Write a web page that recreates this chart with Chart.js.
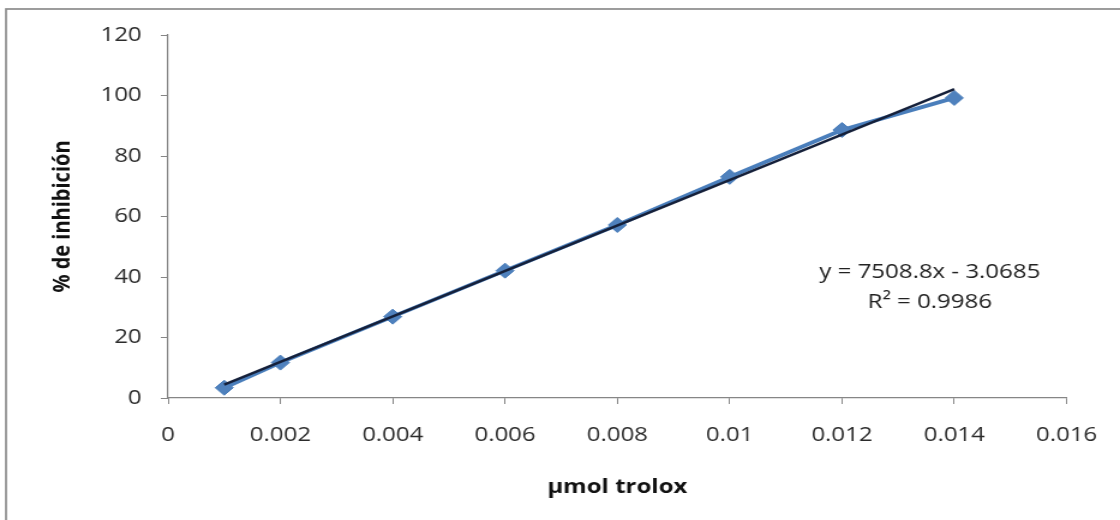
<!DOCTYPE html>
<html>
<head>
<meta charset="utf-8">
<script src="https://cdn.jsdelivr.net/npm/chart.js@4.4.1/dist/chart.umd.min.js"></script>
<style>
  html, body { margin: 0; padding: 0; background: #ffffff; overflow: hidden; }
  #c { display: block; width: 1120px; height: 520px; }
</style>
</head>
<body>
<canvas id="c" width="933" height="520" style="width:1120px;height:520px;"></canvas>
<script>
// ---- data ----
const xValues = [0.001, 0.002, 0.004, 0.006, 0.008, 0.010, 0.012, 0.014];
const inhibition = [3.4, 11.7, 26.9, 42.1, 57.2, 73.1, 88.6, 99.2];
const trendX = [0.001, 0.014];
const trendY = [4.4, 102.1];
const xTitle = 'µmol trolox';
const yTitle = '% de inhibición';
const equationLines = ['y = 7508.8x - 3.0685', 'R² = 0.9986'];

const FONT = "'Open Sans', 'DejaVu Sans', sans-serif";
const AXIS = '#868686';

const seriesData = xValues.map((x, i) => ({ x: x, y: inhibition[i] }));
const trendData = trendX.map((x, i) => ({ x: x, y: trendY[i] }));

const frame = {
  id: 'frame',
  beforeDraw(chart) {
    const ctx = chart.ctx;
    ctx.save();
    ctx.fillStyle = '#ffffff';
    ctx.fillRect(0, 0, chart.width, chart.height);
    ctx.strokeStyle = '#8c8c8c';
    ctx.lineWidth = 1.7;
    ctx.strokeRect(5, 9, chart.width + 20, chart.height + 20);
    ctx.restore();
  }
};

const equation = {
  id: 'equation',
  afterDraw(chart) {
    const ctx = chart.ctx;
    const xs = chart.scales.x, ys = chart.scales.y;
    const cx = xs.getPixelForValue(0.013565);
    const cy = ys.getPixelForValue(41.7);
    ctx.save();
    ctx.font = '20px ' + FONT;
    ctx.fillStyle = '#222222';
    ctx.textAlign = 'center';
    ctx.textBaseline = 'middle';
    equationLines.forEach((t, i) => ctx.fillText(t, cx, cy + i * 30));
    ctx.restore();
  }
};

new Chart(document.getElementById('c'), {
  type: 'scatter',
  data: {
    datasets: [
      {
        label: 'Lineal',
        data: trendData,
        showLine: true,
        borderColor: '#15203a',
        borderWidth: 2.4,
        pointRadius: 0,
        order: 0
      },
      {
        label: '% de inhibición',
        data: seriesData,
        showLine: true,
        borderColor: '#4A7EBB',
        borderWidth: 3.8,
        pointStyle: 'rectRot',
        pointRadius: 7.5,
        pointBackgroundColor: '#4F81BD',
        pointBorderColor: '#4A7EBB',
        pointBorderWidth: 1,
        order: 1
      }
    ]
  },
  options: {
    responsive: false,
    animation: false,
    layout: { padding: { left: 0, top: 35, right: 43, bottom: 0 } },
    plugins: {
      legend: { display: false },
      tooltip: { enabled: false }
    },
    scales: {
      x: {
        type: 'linear',
        min: 0,
        max: 0.016,
        grid: { drawOnChartArea: false, drawTicks: true, tickLength: 6, color: AXIS, lineWidth: 1 },
        border: { color: AXIS, width: 1.2 },
        ticks: {
          stepSize: 0.002,
          padding: 19,
          color: '#2b2b2b',
          font: { family: FONT, size: 20 },
          maxRotation: 0,
          callback: (v) => String(parseFloat(Number(v).toFixed(3)))
        },
        title: {
          display: true,
          text: xTitle,
          color: '#111111',
          font: { family: FONT, size: 20, weight: 'bold' },
          padding: { top: 0, bottom: 21 }
        },
        afterFit(scale) { scale.height = 122; }
      },
      y: {
        type: 'linear',
        min: 0,
        max: 120,
        grid: { drawOnChartArea: false, drawTicks: true, tickLength: 6, color: AXIS, lineWidth: 1 },
        border: { color: AXIS, width: 1.2 },
        ticks: {
          stepSize: 20,
          padding: 16,
          color: '#2b2b2b',
          font: { family: FONT, size: 20 }
        },
        title: {
          display: true,
          text: yTitle,
          color: '#111111',
          font: { family: FONT, size: 20, weight: 'bold' },
          padding: { top: 40, bottom: 0 }
        },
        afterFit(scale) { scale.width = 140; }
      }
    }
  },
  plugins: [frame, equation]
});
</script>
</body>
</html>
